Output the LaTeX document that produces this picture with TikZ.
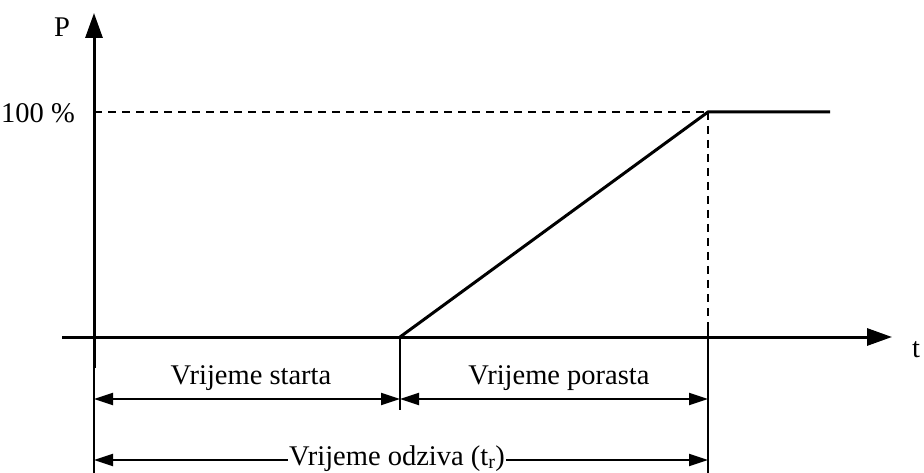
\documentclass[tikz,border=0pt]{standalone}
\usepackage{fontspec}
\setmainfont{Liberation Serif}
\usetikzlibrary{arrows.meta}
\begin{document}
\begin{tikzpicture}[x=1pt,y=-1pt,
  axisline/.style={line width=3pt,-{Triangle[length=25pt,width=17pt]}},
  curveline/.style={line width=3pt,line join=miter},
  guide/.style={line width=1.8pt,dash pattern=on 8pt off 6pt},
  extline/.style={line width=1.5pt},
  dimline/.style={line width=2pt,{Triangle[length=19pt,width=12pt]}-{Triangle[length=19pt,width=12pt]}},
  halfdim/.style={line width=2pt,-{Triangle[length=19pt,width=12pt]}},
  lbl/.style={font=\fontsize{28.5}{31}\selectfont,inner sep=2pt}]
\useasboundingbox (0,0) rectangle (924,473);
% key points
\coordinate (O) at (94,337);
\coordinate (ytop) at (94,13);
\coordinate (ybot) at (94,368);
\coordinate (xl) at (62,337);
\coordinate (xr) at (892,337);
\coordinate (S) at (400,337);
\coordinate (R) at (708,112);
\coordinate (E) at (830,112);
\coordinate (Y100) at (94,112);
% axes
\draw[axisline] (xl) -- (xr);
\draw[axisline] (ybot) -- (ytop);
% dashed guides
\draw[guide] (Y100) -- (R);
\draw[guide] (R) -- (708,327);
% curve
\draw[curveline] (S) -- (R) -- (E);
% extension lines
\draw[extline] (ybot) -- (94,473);
\draw[extline] (S) -- (400,410);
\draw[extline] (708,325) -- (708,473);
% labels
\node[lbl,anchor=base] (P) at (62,37) {P};
\node[lbl,anchor=base west] (t) at (910,357) {t};
\node[lbl,anchor=base east] (pct) at (77,123) {100 \%};
\node[lbl,anchor=base] (ls) at (251,384) {Vrijeme starta};
\node[lbl,anchor=base] (lp) at (559,384) {Vrijeme porasta};
\node[lbl,anchor=base,inner sep=1pt] (lo) at (397,465) {Vrijeme odziva (t\textsubscript{r})};
% dimension arrows
\coordinate (d1a) at (94,399);
\coordinate (d1b) at (400,399);
\coordinate (d2b) at (708,399);
\draw[dimline] (d1a) -- (d1b);
\draw[dimline] (d1b) -- (d2b);
\coordinate (d3a) at (94,460);
\coordinate (d3b) at (708,460);
\draw[halfdim] (lo.west |- d3a) -- (d3a);
\draw[halfdim] (lo.east |- d3b) -- (d3b);
\end{tikzpicture}
\end{document}
